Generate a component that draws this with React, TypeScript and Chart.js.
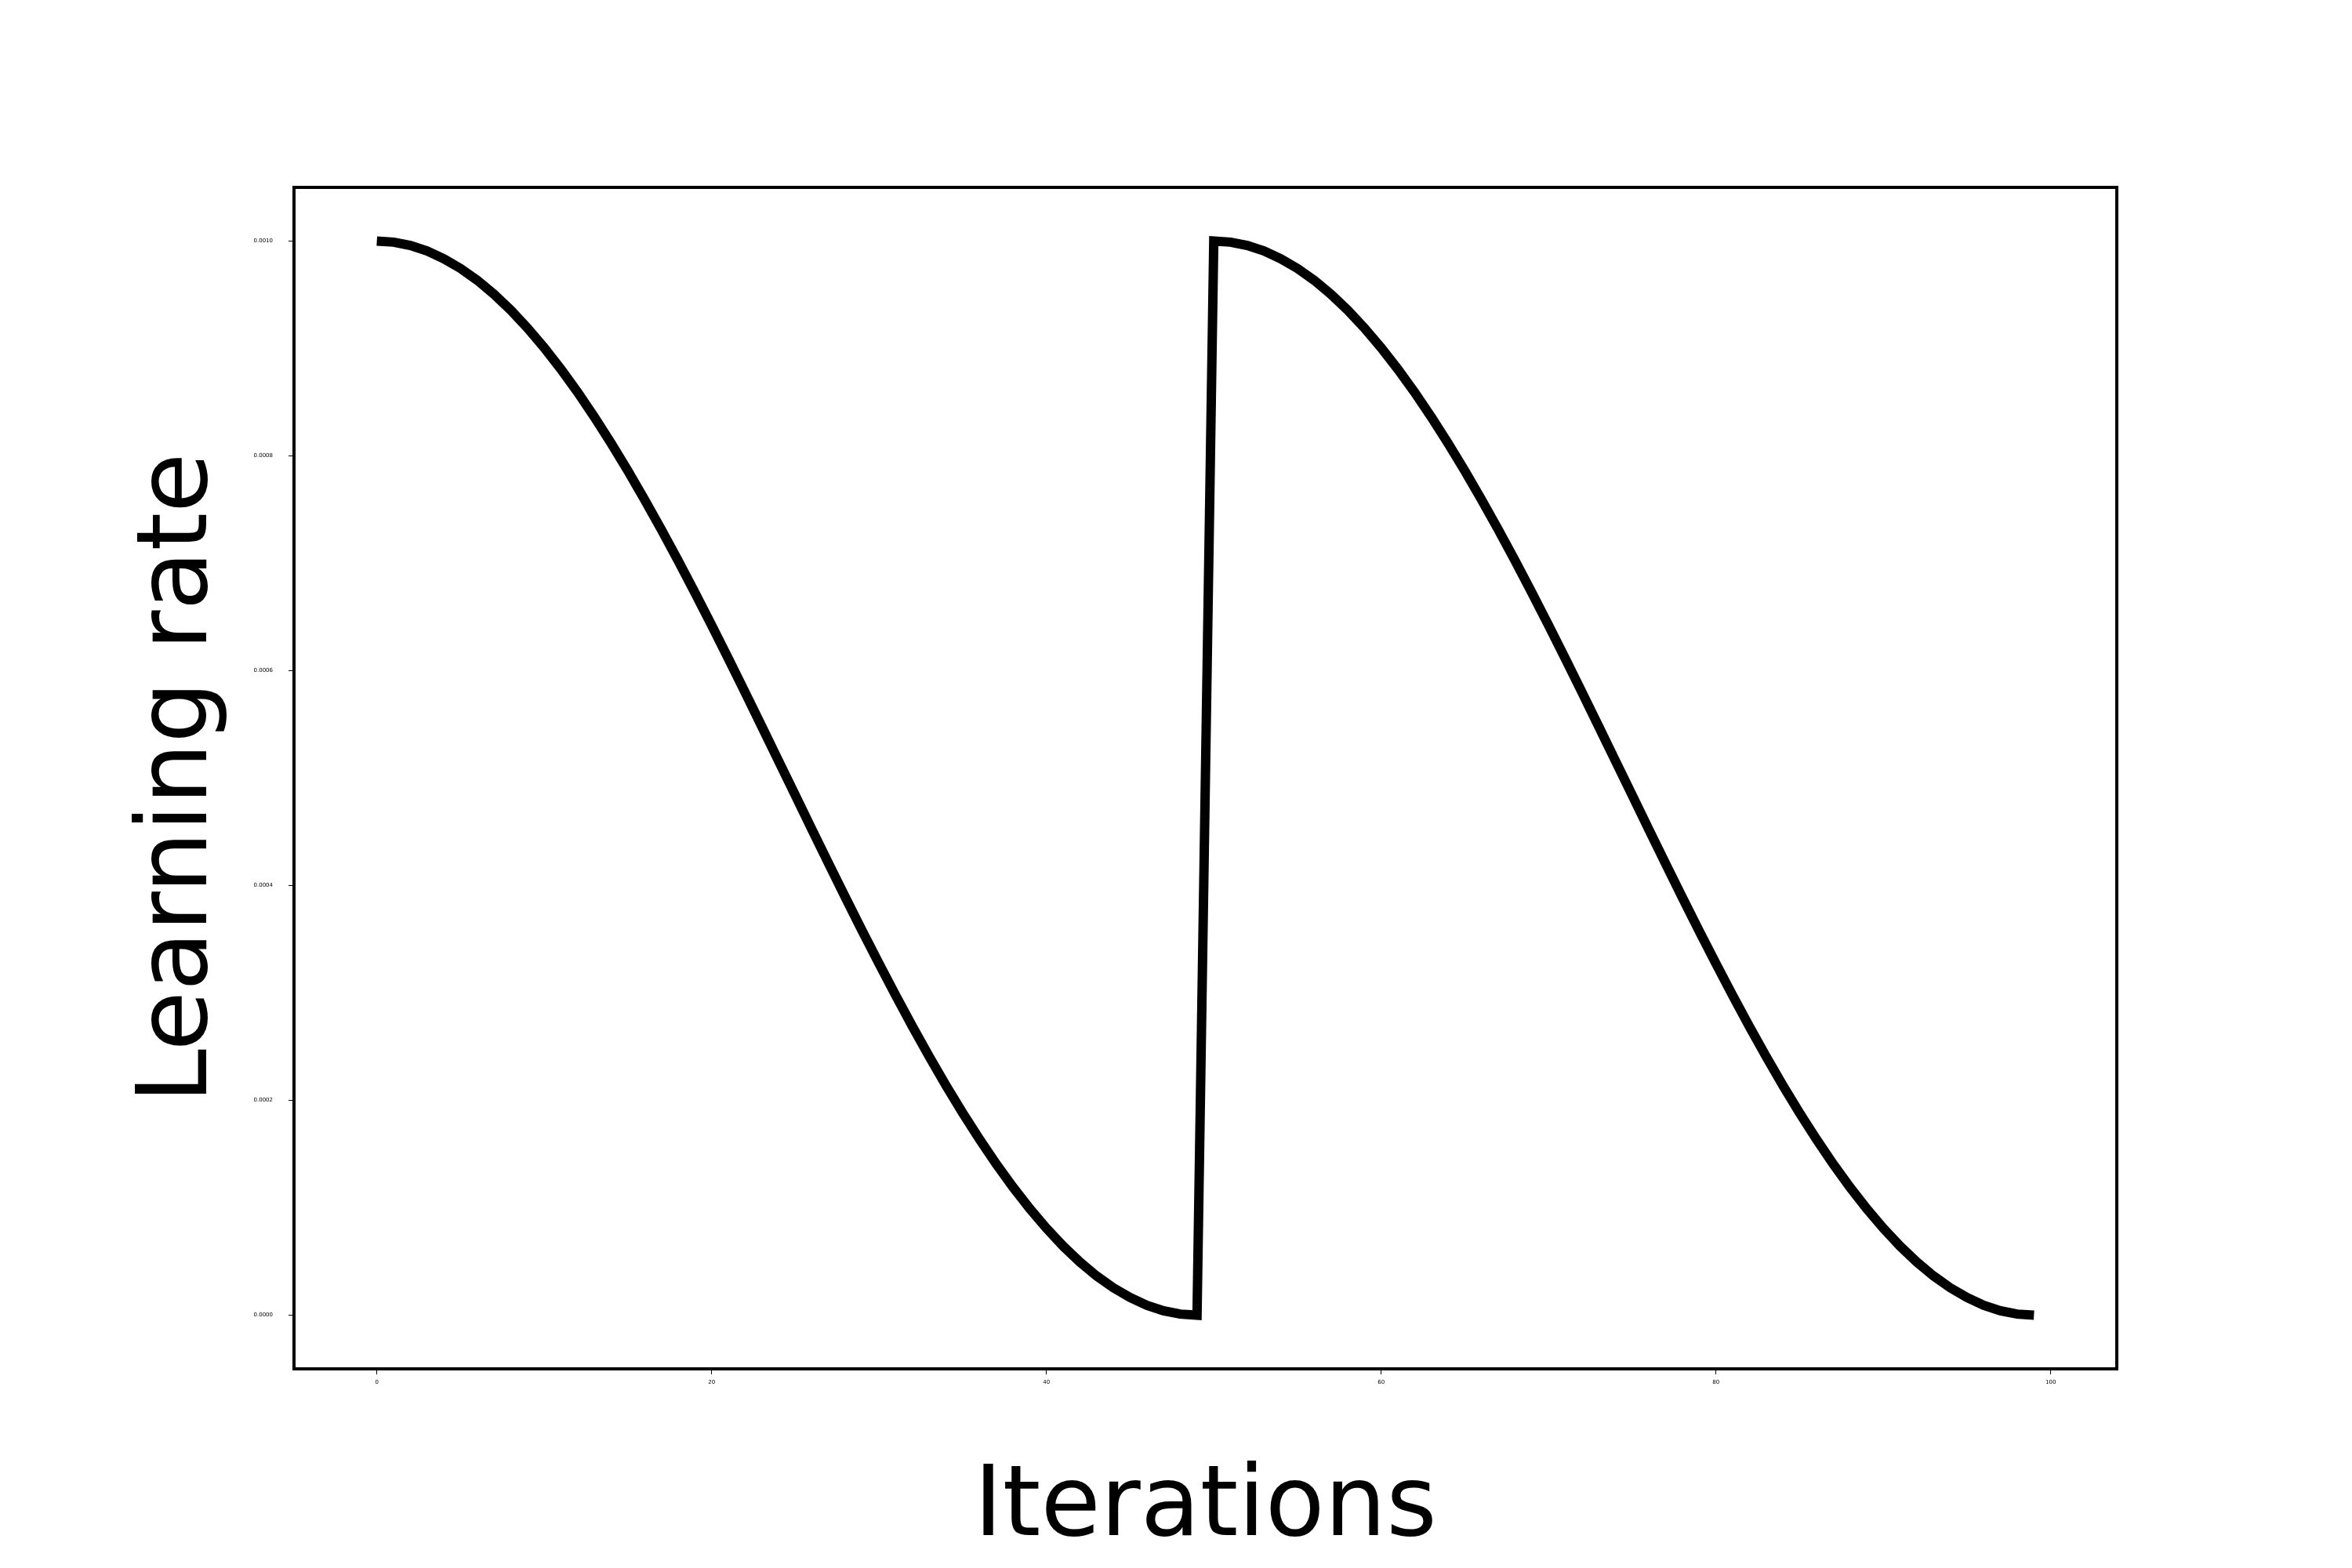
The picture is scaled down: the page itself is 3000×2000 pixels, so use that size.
import { useEffect, useRef } from 'react'
import { Chart, registerables } from 'chart.js'

Chart.register(...registerables)

// learning rate per iteration, in units of 1e-3 (two cosine cycles)
const lrValues = [
  1.0, 0.999, 0.9959, 0.9908, 0.9836, 0.9745, 0.9635, 0.9505, 0.9357, 0.919,
  0.9007, 0.8807, 0.8592, 0.8361, 0.8117, 0.7861, 0.7592, 0.7313, 0.7024, 0.6727,
  0.6423, 0.6113, 0.5798, 0.548, 0.516, 0.484, 0.452, 0.4202, 0.3887, 0.3577,
  0.3273, 0.2976, 0.2687, 0.2408, 0.2139, 0.1883, 0.1639, 0.1408, 0.1193, 0.0993,
  0.081, 0.0643, 0.0495, 0.0365, 0.0255, 0.0164, 0.0092, 0.0041, 0.001, 0.0,
  1.0, 0.999, 0.9959, 0.9908, 0.9836, 0.9745, 0.9635, 0.9505, 0.9357, 0.919,
  0.9007, 0.8807, 0.8592, 0.8361, 0.8117, 0.7861, 0.7592, 0.7313, 0.7024, 0.6727,
  0.6423, 0.6113, 0.5798, 0.548, 0.516, 0.484, 0.452, 0.4202, 0.3887, 0.3577,
  0.3273, 0.2976, 0.2687, 0.2408, 0.2139, 0.1883, 0.1639, 0.1408, 0.1193, 0.0993,
  0.081, 0.0643, 0.0495, 0.0365, 0.0255, 0.0164, 0.0092, 0.0041, 0.001, 0.0,
]
const iterations = lrValues.map((_, i) => i)

const frame = {
  id: 'frame',
  afterDraw(chart) {
    const { ctx, chartArea: a } = chart
    ctx.save()
    ctx.strokeStyle = '#000'
    ctx.lineWidth = 4
    ctx.strokeRect(a.left, a.top, a.right - a.left, a.bottom - a.top)
    ctx.restore()
  },
}

const App = () => {
  const chartRef = useRef(null)
  const chartInstance = useRef(null)

  useEffect(() => {
    if (chartInstance.current) chartInstance.current.destroy()
    chartInstance.current = new Chart(chartRef.current, {
      type: 'line',
      data: {
        datasets: [
          {
            data: iterations.map((x, i) => ({ x, y: lrValues[i] / 1000 })),
            borderColor: '#000',
            borderWidth: 12,
            pointRadius: 0,
            fill: false,
            tension: 0,
          },
        ],
      },
      plugins: [frame],
      options: {
        animation: false,
        responsive: false,
        layout: { padding: { top: 239, right: 300, left: 0, bottom: 0 } },
        plugins: { legend: { display: false }, tooltip: { enabled: false } },
        scales: {
          x: {
            type: 'linear',
            min: -4.95,
            max: 103.95,
            afterFit: (s) => { s.height = 254 },
            afterBuildTicks: (s) => { s.ticks = [0, 20, 40, 60, 80, 100].map((v) => ({ value: v })) },
            grid: { drawOnChartArea: false, tickLength: 7, color: '#000' },
            border: { display: false },
            ticks: { font: { family: 'DejaVu Sans', size: 7 }, color: '#000', padding: 6 },
            title: {
              display: true,
              text: 'Iterations',
              font: { family: 'DejaVu Sans', size: 124 },
              color: '#000',
              padding: { top: 105, bottom: 0 },
            },
          },
          y: {
            min: -0.00005,
            max: 0.00105,
            afterFit: (s) => { s.width = 375 },
            afterBuildTicks: (s) => { s.ticks = [0, 0.0002, 0.0004, 0.0006, 0.0008, 0.001].map((v) => ({ value: v })) },
            grid: { drawOnChartArea: false, tickLength: 7, color: '#000' },
            border: { display: false },
            ticks: {
              font: { family: 'DejaVu Sans', size: 7 },
              color: '#000',
              padding: 20,
              callback: (v) => Number(v).toFixed(4),
            },
            title: {
              display: true,
              text: 'Learning rate',
              font: { family: 'DejaVu Sans', size: 124 },
              color: '#000',
              padding: { top: 156, bottom: 0 },
            },
          },
        },
      },
    })
    return () => {
      if (chartInstance.current) chartInstance.current.destroy()
    }
  }, [])

  return (
    <div style={{ position: 'absolute', left: 0, top: 0, width: 3000, height: 2000, background: '#fff' }}>
      <canvas ref={chartRef} width={3000} height={2000} />
    </div>
  )
}

export default App
